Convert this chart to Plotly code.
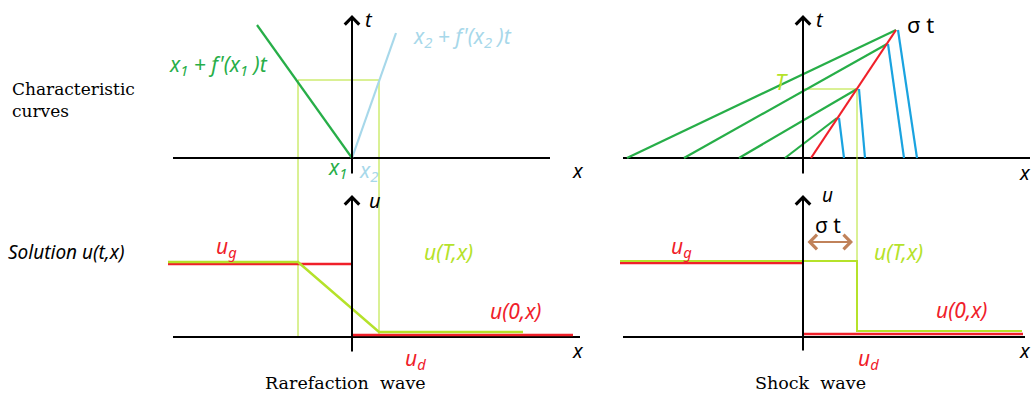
import plotly.graph_objects as go

# ---------------- data (diagram units, origin at each panel's axis crossing) ----------------
# Rarefaction wave: characteristic curves (x, t)
rare_char1_x = [-9.5, 0.0]
rare_char1_t = [13.3, 0.0]
rare_char2_x = [0.0, 4.4]
rare_char2_t = [0.0, 12.5]
rare_T = 7.8
rare_xT = [-5.4, 2.7]          # fan edges at time T
rare_drop = -17.9              # guide lines go down to the solution axis

# Rarefaction wave: solutions (x, u)
rare_u0_left_x = [-18.4, 0.0]
rare_u0_left_u = [7.3, 7.3]
rare_u0_right_x = [0.0, 22.1]
rare_u0_right_u = [0.2, 0.2]
rare_uT_x = [-18.4, -5.4, 2.7, 17.1]
rare_uT_u = [7.5, 7.5, 0.5, 0.5]

# Shock wave: characteristic curves (x, t)
shock_line_x = [0.8, 9.3]
shock_line_t = [0.0, 12.8]
shock_green_start_x = [-17.6, -11.9, -6.4, -1.8]
shock_hit_x = [9.3, 8.4, 5.4, 3.4]
shock_hit_t = [12.8, 11.4, 6.9, 4.0]
shock_blue_top_x = [9.5, 8.5, 5.6, 3.6]
shock_blue_end_x = [11.4, 10.1, 6.2, 4.1]
shock_T = 6.9
shock_xT = 5.4
shock_drop = -17.3

# Shock wave: solutions (x, u)
shock_u0_left_x = [-18.3, 0.0]
shock_u0_left_u = [7.4, 7.4]
shock_u0_right_x = [0.0, 22.0]
shock_u0_right_u = [0.3, 0.3]
shock_uT_x = [-18.3, 5.4, 5.4, 21.9]
shock_uT_u = [7.6, 7.6, 0.6, 0.6]
sigma_arrow_x = [0.3, 5.0]
sigma_arrow_u = 9.5

# axes extents
left_xaxis_top = [-17.9, 19.8]
left_xaxis_bot = [-17.9, 22.8]
right_xaxis_top = [-18.0, 22.7]
right_xaxis_bot = [-18.0, 22.2]
t_axis = [-1.7, 14.3]
u_axis = [-1.6, 14.2]

# ---------------- styling ----------------
W, H = 1033, 397
SCALE = 10.0
LEFT_OX, RIGHT_OX = 352, 803
TOP_OY, BOT_OY = 158, 337

GREEN = "#27ae48"
LBLUE = "#a7d8ea"
BLUE = "#1aa3e0"
RED = "#f0202a"
YG = "#b5e22a"
BROWN = "#c0825a"
BLACK = "#000000"
SANS = "Noto Sans"
SERIF = "DejaVu Serif"
LBL = 21

fig = go.Figure()

def line(xs, ys, color, width, xa="x", ya="y"):
    fig.add_trace(go.Scatter(x=xs, y=ys, mode="lines", xaxis=xa, yaxis=ya,
                             line=dict(color=color, width=width),
                             hoverinfo="skip", showlegend=False))

def arrow(x0, y0, x1, y1, xa, ya, color=BLACK, width=2, both=False):
    fig.add_annotation(x=x1, y=y1, ax=x0, ay=y0, xref=xa, yref=ya,
                       axref=xa, ayref=ya, showarrow=True, text="",
                       arrowhead=4, arrowsize=1.4, arrowwidth=width,
                       arrowcolor=color,
                       arrowside="end+start" if both else "end",
                       startarrowhead=4, startarrowsize=1.4)

def label(x, y, text, color, xa, ya, size=LBL, italic=True, family=SANS, xanchor="center"):
    fig.add_annotation(x=x, y=y, xref=xa, yref=ya, text=text, showarrow=False,
                       xanchor=xanchor, yanchor="middle",
                       font=dict(family=family, size=size, color=color,
                                 style="italic" if italic else "normal"))

# ---- top-left: rarefaction characteristics (x, y) ----
line([rare_xT[0], rare_xT[0], rare_xT[1], rare_xT[1]],
     [rare_drop, rare_T, rare_T, rare_drop], YG, 1, "x", "y")
line(left_xaxis_top, [0, 0], BLACK, 2.2, "x", "y")
arrow(0, t_axis[0], 0, t_axis[1], "x", "y")
line(rare_char1_x, rare_char1_t, GREEN, 2.2, "x", "y")
line(rare_char2_x, rare_char2_t, LBLUE, 2.2, "x", "y")

# ---- bottom-left: rarefaction solution (x, y2) ----
line(left_xaxis_bot, [0, 0], BLACK, 2.2, "x", "y2")
arrow(0, u_axis[0], 0, u_axis[1], "x", "y2")
line(rare_u0_left_x, rare_u0_left_u, RED, 2.5, "x", "y2")
line(rare_u0_right_x, rare_u0_right_u, RED, 2.5, "x", "y2")
line(rare_uT_x, rare_uT_u, YG, 2.5, "x", "y2")

# ---- top-right: shock characteristics (x2, y) ----
line(right_xaxis_top, [0, 0], BLACK, 2.2, "x2", "y")
arrow(0, t_axis[0], 0, t_axis[1], "x2", "y")
line([0, shock_xT, shock_xT], [shock_T, shock_T, shock_drop], YG, 1, "x2", "y")
for xs, xh, th in zip(shock_green_start_x, shock_hit_x, shock_hit_t):
    line([xs, xh], [0, th], GREEN, 2.2, "x2", "y")
for xt, xe, th in zip(shock_blue_top_x, shock_blue_end_x, shock_hit_t):
    line([xt, xe], [th, 0], BLUE, 2.2, "x2", "y")
line(shock_line_x, shock_line_t, RED, 2.2, "x2", "y")

# ---- bottom-right: shock solution (x2, y2) ----
line(right_xaxis_bot, [0, 0], BLACK, 2.2, "x2", "y2")
arrow(0, u_axis[0] + 0.1, 0, u_axis[1], "x2", "y2")
line(shock_u0_left_x, shock_u0_left_u, RED, 2.5, "x2", "y2")
line(shock_u0_right_x, shock_u0_right_u, RED, 2.5, "x2", "y2")
line(shock_uT_x, shock_uT_u, YG, 2, "x2", "y2")
arrow(sigma_arrow_x[0], sigma_arrow_u, sigma_arrow_x[1], sigma_arrow_u,
      "x2", "y2", color=BROWN, width=2, both=True)

# ---- labels ----
label(-13.4, 9.3, "x<sub>1</sub> + f'(x<sub>1</sub> )t", GREEN, "x", "y")
label(11.0, 12.1, "x<sub>2</sub> + f'(x<sub>2</sub> )t", LBLUE, "x", "y")
label(-1.5, -1.0, "x<sub>1</sub>", GREEN, "x", "y")
label(1.6, -1.3, "x<sub>2</sub>", LBLUE, "x", "y")
label(1.7, 13.9, "t", BLACK, "x", "y", size=20)
label(22.6, -1.2, "x", BLACK, "x", "y", size=20)

label(2.3, 13.7, "u", BLACK, "x", "y2", size=20)
label(22.6, -1.3, "x", BLACK, "x", "y2", size=20)
label(-12.6, 9.0, "u<sub>g</sub>", RED, "x", "y2")
label(9.6, 8.5, "u(T,x)", YG, "x", "y2")
label(16.3, 2.6, "u(0,x)", RED, "x", "y2")
label(6.3, -2.2, "u<sub>d</sub>", RED, "x", "y2")
label(-0.7, -4.6, "Rarefaction  wave", BLACK, "x", "y2", size=17.5, italic=False, family=SERIF)

label(1.7, 13.9, "t", BLACK, "x2", "y", size=20)
label(11.7, 13.4, "σ t", BLACK, "x2", "y", size=22, italic=False)
label(-2.2, 7.7, "T", YG, "x2", "y", size=22)
label(23.0, -1.4, "x", BLACK, "x2", "y", size=20, xanchor="right")

label(2.4, 14.2, "u", BLACK, "x2", "y2", size=19)
label(2.5, 11.2, "σ t", BLACK, "x2", "y2", size=21, italic=False)
label(-12.2, 9.0, "u<sub>g</sub>", RED, "x2", "y2")
label(9.5, 8.5, "u(T,x)", YG, "x2", "y2")
label(15.8, 2.7, "u(0,x)", RED, "x2", "y2")
label(6.5, -2.2, "u<sub>d</sub>", RED, "x2", "y2")
label(0.7, -4.6, "Shock  wave", BLACK, "x2", "y2", size=17.5, italic=False, family=SERIF)
label(23.0, -1.3, "x", BLACK, "x2", "y2", size=20, xanchor="right")

fig.add_annotation(x=10 / W, y=1 - 100 / H, xref="paper", yref="paper",
                   text="Characteristic<br>curves", showarrow=False, align="left",
                   xanchor="left", yanchor="middle",
                   font=dict(family=SERIF, size=17, color=BLACK))
fig.add_annotation(x=6 / W, y=1 - 252 / H, xref="paper", yref="paper",
                   text="Solution u(t,x)", showarrow=False,
                   xanchor="left", yanchor="middle",
                   font=dict(family=SANS, size=19, color=BLACK, style="italic"))

# ---- axes: each overlays the full page so the panel origin lands at its pixel spot ----
def xr(ox):
    return [(0 - ox) / SCALE, (W - ox) / SCALE]

def yr(oy):
    return [(oy - H) / SCALE, oy / SCALE]

hidden = dict(visible=False, showgrid=False, zeroline=False, fixedrange=True)
fig.update_layout(
    width=W, height=H,
    margin=dict(l=0, r=0, t=0, b=0),
    paper_bgcolor="white", plot_bgcolor="white",
    xaxis=dict(range=xr(LEFT_OX), domain=[0, 1], **hidden),
    xaxis2=dict(range=xr(RIGHT_OX), domain=[0, 1], overlaying="x", **hidden),
    yaxis=dict(range=yr(TOP_OY), domain=[0, 1], **hidden),
    yaxis2=dict(range=yr(BOT_OY), domain=[0, 1], overlaying="y", **hidden),
    showlegend=False,
)

fig.write_html("out.html")
